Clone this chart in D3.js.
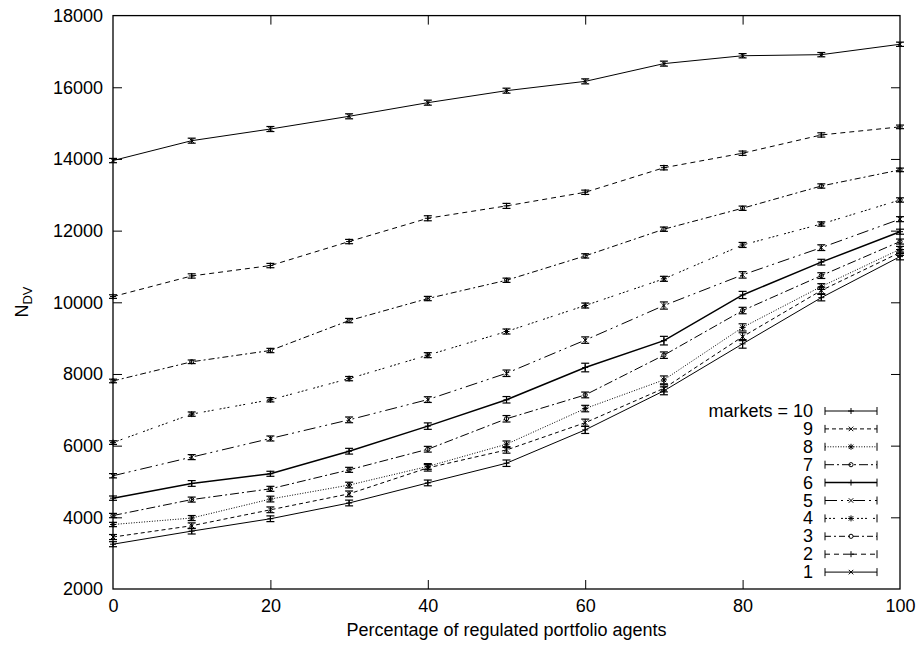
<!DOCTYPE html>
<html>
<head>
<meta charset="utf-8">
<script src="https://cdn.jsdelivr.net/npm/d3@7"></script>
<style>
  html, body { margin: 0; padding: 0; background: #fff; }
  svg { display: block; font-family: "Liberation Sans", Arial, Helvetica, sans-serif; }
</style>
</head>
<body>
<svg id="chart" width="919" height="648"></svg>
<script>
// ---- data ----
const xValues = [0, 10, 20, 30, 40, 50, 60, 70, 80, 90, 100];
const yTicks = [2000, 4000, 6000, 8000, 10000, 12000, 14000, 16000, 18000];
const xTicks = [0, 20, 40, 60, 80, 100];
const legendLabels = ["markets = 10", "9", "8", "7", "6", "5", "4", "3", "2", "1"];

const markets10 = [3250, 3615, 3960, 4400, 4960, 5510, 6440, 7530, 8840, 10130, 11275];
const markets9  = [3450, 3765, 4210, 4655, 5380, 5880, 6640, 7600, 9040, 10330, 11390];
const markets8  = [3800, 3980, 4510, 4900, 5420, 6040, 7035, 7835, 9300, 10440, 11480];
const markets7  = [4050, 4495, 4795, 5325, 5900, 6750, 7415, 8525, 9770, 10745, 11695];
const markets6  = [4535, 4945, 5215, 5845, 6545, 7280, 8180, 8930, 10205, 11120, 11970];
const markets5  = [5160, 5680, 6200, 6720, 7285, 8020, 8945, 9910, 10765, 11525, 12320];
const markets4  = [6085, 6880, 7280, 7870, 8525, 9185, 9910, 10655, 11600, 12185, 12855];
const markets3  = [7805, 8340, 8655, 9490, 10105, 10615, 11295, 12040, 12625, 13245, 13695];
const markets2  = [10160, 10735, 11025, 11695, 12345, 12690, 13070, 13755, 14160, 14670, 14895];
const markets1  = [13955, 14510, 14835, 15190, 15570, 15905, 16165, 16660, 16880, 16910, 17200];

const err10 = [70, 80, 80, 80, 80, 90, 100, 110, 120, 90, 90];
const err9  = [70, 80, 80, 80, 90, 90, 100, 100, 110, 90, 80];
const err8  = [60, 70, 80, 80, 80, 90, 90, 110, 100, 80, 80];
const err7  = [60, 70, 70, 70, 80, 90, 80, 90, 90, 80, 70];
const err6  = [60, 80, 70, 80, 90, 90, 120, 120, 100, 80, 70];
const err5  = [60, 70, 70, 80, 80, 90, 90, 100, 90, 80, 70];
const err4  = [50, 60, 60, 60, 70, 70, 70, 70, 70, 60, 60];
const err3  = [50, 50, 60, 60, 60, 60, 60, 60, 60, 60, 50];
const err2  = [50, 60, 60, 60, 70, 70, 60, 60, 60, 60, 50];
const err1  = [60, 70, 70, 70, 70, 70, 70, 70, 60, 60, 60];

const seriesValues = [markets10, markets9, markets8, markets7, markets6, markets5, markets4, markets3, markets2, markets1];
const seriesErrors = [err10, err9, err8, err7, err6, err5, err4, err3, err2, err1];

(function () {
// styles (gnuplot-like line types)
const dashes = [null, "4,3", "1,1.6", "9,3,2,3", null, "12,4,2,4,2,4", "2,2,2,2,2,6", "6,3,2,3", "5,4", null];
const widths = [1, 1, 1, 1, 1.5, 1, 1, 1, 1, 1];
const markerTypes = ["plus", "cross", "star", "circle", "plus", "cross", "star", "circle", "plus", "cross"];

// ---- layout ----
const svg = d3.select("#chart");
const mL = 113, mR = 900, mT = 15.6, mB = 589;

const x = d3.scaleLinear().domain([0, 100]).range([mL, mR]);
const y = d3.scaleLinear().domain([2000, 18000]).range([mB, mT]);

const tickLen = 9;
const fontSize = 18;

const axL = svg.append("g").attr("transform", `translate(${mL},0)`)
  .call(d3.axisLeft(y).tickValues(yTicks).tickFormat(d3.format("d")).tickSizeInner(-tickLen).tickSizeOuter(0).tickPadding(10));
const axR = svg.append("g").attr("transform", `translate(${mR},0)`)
  .call(d3.axisRight(y).tickValues(yTicks).tickFormat("").tickSizeInner(-tickLen).tickSizeOuter(0));
const axB = svg.append("g").attr("transform", `translate(0,${mB})`)
  .call(d3.axisBottom(x).tickValues(xTicks).tickFormat(d3.format("d")).tickSizeInner(-tickLen).tickSizeOuter(0).tickPadding(10));
const axT = svg.append("g").attr("transform", `translate(0,${mT})`)
  .call(d3.axisTop(x).tickValues(xTicks).tickFormat("").tickSizeInner(-tickLen).tickSizeOuter(0));

[axL, axR, axB, axT].forEach(g => {
  g.select(".domain").remove();
  g.selectAll("line").attr("stroke", "#000").attr("stroke-width", 1);
  g.selectAll("text").attr("font-size", fontSize).attr("fill", "#000")
    .attr("font-family", "'Liberation Sans', Arial, Helvetica, sans-serif");
});
axB.selectAll(".tick").filter(d => d === 0 || d === 100).select("line").remove();
axT.selectAll(".tick").filter(d => d === 0 || d === 100).select("line").remove();
axL.selectAll(".tick").filter(d => d === 2000 || d === 18000).select("line").remove();
axR.selectAll(".tick").filter(d => d === 2000 || d === 18000).select("line").remove();

svg.append("rect").attr("x", mL).attr("y", mT).attr("width", mR - mL).attr("height", mB - mT)
  .attr("fill", "none").attr("stroke", "#000").attr("stroke-width", 1.3);

svg.append("text").attr("x", (mL + mR) / 2).attr("y", 636).attr("text-anchor", "middle")
  .attr("font-size", 18).text("Percentage of regulated portfolio agents");

const yl = svg.append("text").attr("transform", `translate(28,302) rotate(-90)`).attr("text-anchor", "middle")
  .attr("font-size", 18);
yl.append("tspan").text("N");
yl.append("tspan").attr("font-size", 13).attr("dy", 4).text("DV");

function drawMarker(g, type, cx, cy, s) {
  const p = g.append("g").attr("stroke", "#000").attr("stroke-width", 1).attr("fill", "none");
  if (type === "plus" || type === "star") {
    p.append("line").attr("x1", cx - s).attr("x2", cx + s).attr("y1", cy).attr("y2", cy);
    p.append("line").attr("x1", cx).attr("x2", cx).attr("y1", cy - s).attr("y2", cy + s);
  }
  if (type === "cross" || type === "star") {
    const t = s * 0.75;
    p.append("line").attr("x1", cx - t).attr("x2", cx + t).attr("y1", cy - t).attr("y2", cy + t);
    p.append("line").attr("x1", cx - t).attr("x2", cx + t).attr("y1", cy + t).attr("y2", cy - t);
  }
  if (type === "circle") {
    p.append("circle").attr("cx", cx).attr("cy", cy).attr("r", s * 0.7);
  }
}

const line = d3.line().x((d, i) => x(xValues[i])).y(d => y(d));
const plot = svg.append("g");

seriesValues.forEach((vals, si) => {
  const errs = seriesErrors[si];
  plot.append("path").datum(vals).attr("d", line)
    .attr("fill", "none").attr("stroke", "#000").attr("stroke-width", widths[si])
    .attr("stroke-dasharray", dashes[si]);
  const eg = plot.append("g").attr("stroke", "#000").attr("stroke-width", 1.2);
  vals.forEach((v, i) => {
    const cx = x(xValues[i]);
    const y1 = y(v + errs[i]), y2 = y(v - errs[i]);
    eg.append("line").attr("x1", cx).attr("x2", cx).attr("y1", y1).attr("y2", y2);
    eg.append("line").attr("x1", cx - 4).attr("x2", cx + 4).attr("y1", y1).attr("y2", y1);
    eg.append("line").attr("x1", cx - 4).attr("x2", cx + 4).attr("y1", y2).attr("y2", y2);
    drawMarker(plot, markerTypes[si], cx, y(v), 3);
  });
});

const lg = svg.append("g");
legendLabels.forEach((lab, i) => {
  const ly = 411 + i * 17.9;
  lg.append("text").attr("x", 813).attr("y", ly + 6).attr("text-anchor", "end")
    .attr("font-size", fontSize).text(lab);
  lg.append("line").attr("x1", 825).attr("x2", 877).attr("y1", ly).attr("y2", ly)
    .attr("stroke", "#000").attr("stroke-width", widths[i]).attr("stroke-dasharray", dashes[i]);
  lg.append("line").attr("x1", 825).attr("x2", 825).attr("y1", ly - 4).attr("y2", ly + 4).attr("stroke", "#000");
  lg.append("line").attr("x1", 877).attr("x2", 877).attr("y1", ly - 4).attr("y2", ly + 4).attr("stroke", "#000");
  drawMarker(lg, markerTypes[i], 851, ly, 3);
});
})();
</script>
</body>
</html>
